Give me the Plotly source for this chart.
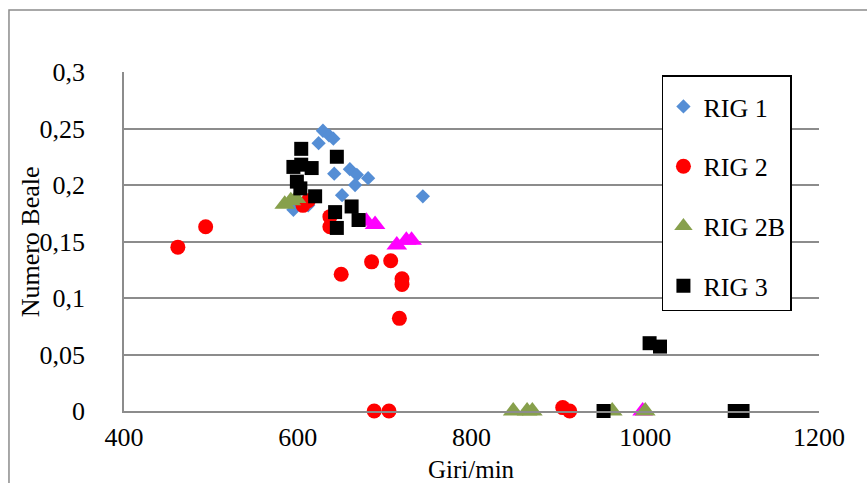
import plotly.graph_objects as go

# RIG 1 measurements (rpm, Beale number)
rig1_rpm = [629, 636, 641, 624, 642, 660, 668, 681, 666, 651, 744, 595, 612]
rig1_beale = [0.248, 0.244, 0.241, 0.237, 0.210, 0.214, 0.209, 0.206, 0.200, 0.191, 0.190, 0.178, 0.182]

# RIG 2 measurements
rig2_rpm = [462, 494, 612, 606, 637, 637, 650, 685, 707, 720, 720, 717, 688, 705, 905, 913]
rig2_beale = [0.145, 0.163, 0.186, 0.182, 0.172, 0.163, 0.121, 0.132, 0.133, 0.117, 0.112, 0.082, 0, 0, 0.003, 0]

# RIG 2B extra points (no legend entry)
rig2b_extra_rpm = [679, 689, 714, 725, 731, 997]
rig2b_extra_beale = [0.168, 0.165, 0.147, 0.151, 0.151, 0]

# RIG 2B measurements
rig2b_rpm = [585, 592, 598, 848, 864, 870, 962, 1000]
rig2b_beale = [0.183, 0.186, 0.188, 0, 0, 0, 0, 0]

# RIG 3 measurements
rig3_rpm = [604, 645, 595, 604, 616, 599, 603, 620, 662, 643, 670, 645, 1005, 1017, 952, 1103, 1112]
rig3_beale = [0.232, 0.225, 0.216, 0.218, 0.215, 0.203, 0.197, 0.190, 0.181, 0.176, 0.169, 0.162,
              0.060, 0.057, 0, 0, 0]

x_ticks = [400, 600, 800, 1000, 1200]
y_ticks = [0, 0.05, 0.1, 0.15, 0.2, 0.25, 0.3]

FONT = "Liberation Serif"
GRID = "#8c8c8c"

fig = go.Figure()

fig.add_trace(go.Scatter(x=rig1_rpm, y=rig1_beale, mode="markers", name="RIG 1", legendgroup="g1",
                         marker=dict(symbol="diamond", size=11, color="#558ed5"), cliponaxis=False))
fig.add_trace(go.Scatter(x=rig2_rpm, y=rig2_beale, mode="markers", name="RIG 2", legendgroup="g2",
                         marker=dict(symbol="circle", size=15, color="#ff0000"), cliponaxis=False))
fig.add_trace(go.Scatter(x=rig2b_extra_rpm, y=rig2b_extra_beale, mode="markers", name="RIG 2B (b)",
                         showlegend=False,
                         marker=dict(symbol="triangle-up", size=18, color="#ff00ff"), cliponaxis=False))
fig.add_trace(go.Scatter(x=rig2b_rpm, y=rig2b_beale, mode="markers", name="RIG 2B", legendgroup="g3",
                         marker=dict(symbol="triangle-up", size=18, color="#87a04c"), cliponaxis=False))
fig.add_trace(go.Scatter(x=rig3_rpm, y=rig3_beale, mode="markers", name="RIG 3", legendgroup="g4",
                         marker=dict(symbol="square", size=14, color="#000000"), cliponaxis=False))

# outer chart frame
fig.add_shape(type="rect", xref="paper", yref="paper", x0=-0.1655, x1=1.08, y0=-0.25, y1=1.183,
              line=dict(color=GRID, width=1.5), layer="below")

# axis titles
fig.add_annotation(text="Giri/min", xref="paper", yref="paper", x=0.5, y=-0.172,
                   xanchor="center", yanchor="middle", showarrow=False,
                   font=dict(family=FONT, size=25, color="black"))
fig.add_annotation(text="Numero Beale", xref="paper", yref="paper", x=-0.134, y=0.5,
                   xanchor="center", yanchor="middle", textangle=-90, showarrow=False,
                   font=dict(family=FONT, size=26, color="black"))

fig.update_layout(
    width=867, height=483,
    margin=dict(l=124, r=48, t=72, b=72),
    paper_bgcolor="white", plot_bgcolor="white",
    separators=",.",
    font=dict(family=FONT, size=26, color="black"),
    legend=dict(x=0.774, y=0.991, xanchor="left", yanchor="top",
                bordercolor="black", borderwidth=1.5, bgcolor="white",
                font=dict(family=FONT, size=26, color="black"),
                title=dict(text=" ", font=dict(size=5)),
                tracegroupgap=23, traceorder="grouped"),
    xaxis=dict(range=[400, 1200], tickvals=x_ticks, showgrid=False, zeroline=False,
               showline=True, linecolor=GRID, linewidth=1.5, ticks="",
               ticklabelstandoff=2, automargin=False),
    yaxis=dict(range=[0, 0.3], tickvals=y_ticks, showgrid=True, gridcolor=GRID, gridwidth=1.5,
               zeroline=False, showline=True, linecolor=GRID, linewidth=1.5, ticks="",
               ticklabelstandoff=32, automargin=False),
)

fig.write_html("out.html")
